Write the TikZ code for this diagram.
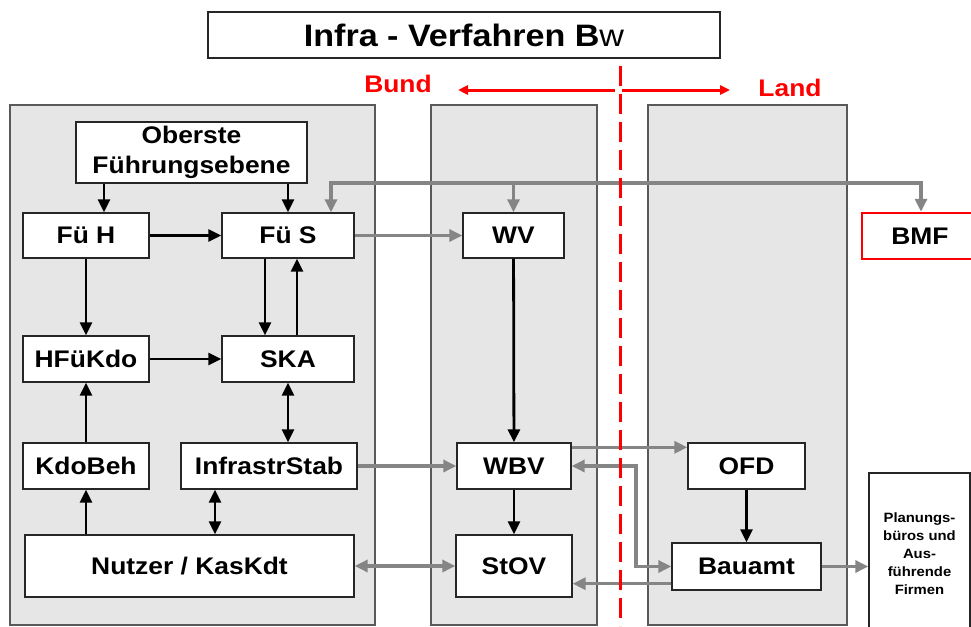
\documentclass[tikz,border=0pt]{standalone}
\usepackage{fontspec}
\setmainfont[FakeStretch=1.1]{Liberation Sans}
\usetikzlibrary{arrows.meta}
\definecolor{panelgray}{HTML}{E6E6E6}
\definecolor{linegray}{HTML}{858585}
\definecolor{bwred}{HTML}{FF0000}

\begin{document}
\begin{tikzpicture}[x=1pt,y=-1pt,
  box/.style={draw=black!85,line width=1.4pt,fill=white,inner sep=0pt,align=center,
    font=\fontsize{24}{30}\selectfont\bfseries},
  panel/.style={fill=panelgray,draw=black!65,line width=1.6pt},
  blk/.style={line width=2.8pt,-{Triangle[length=13pt,width=12pt]}},
  blkboth/.style={line width=2.8pt,{Triangle[length=13pt,width=12pt]}-{Triangle[length=13pt,width=12pt]}},
  gry/.style={draw=linegray,line width=3.2pt,-{Triangle[length=13pt,width=12pt]}},
  gryboth/.style={draw=linegray,line width=3.2pt,{Triangle[length=13pt,width=12pt]}-{Triangle[length=13pt,width=12pt]}},
  redarrow/.style={draw=bwred,line width=3pt,-{Triangle[length=10pt,width=9pt]}},
  redtext/.style={text=bwred,font=\fontsize{24}{30}\selectfont\bfseries}]
  \useasboundingbox (0,0) rectangle (971,626);

  % Spalten
  \foreach \xa/\xb in {10/375,431/597,648/847}
    \draw[panel] (\xa,105) rectangle (\xb,625);

  \node[box,minimum width=512pt,minimum height=46pt,
    font=\fontsize{31}{36}\selectfont\bfseries] (title) at (464,35) {Infra - Verfahren B{\mdseries w}};
  \node[redtext] (bund) at (398,84) {Bund};
  \node[redtext] (land) at (790,88) {Land};

  \node[box,minimum width=231pt,minimum height=61pt] (ober) at (191.5,152.5) {Oberste\\Führungsebene};
  \node[box,minimum width=126pt,minimum height=45pt] (fuh) at (86,235.5) {Fü H};
  \node[box,minimum width=132pt,minimum height=45pt] (fus) at (288,235.5) {Fü S};
  \node[box,minimum width=126pt,minimum height=46pt] (hfk) at (86,359) {HFüKdo};
  \node[box,minimum width=132pt,minimum height=46pt] (ska) at (288,359) {SKA};
  \node[box,minimum width=126pt,minimum height=46pt] (kdo) at (86,466) {KdoBeh};
  \node[box,minimum width=176pt,minimum height=46pt] (infra) at (269,466) {InfrastrStab};
  \node[box,minimum width=329pt,minimum height=62pt] (nutzer) at (189.5,566) {Nutzer / KasKdt};

  \node[box,minimum width=101pt,minimum height=45pt] (wv) at (513.5,235.5) {WV};
  \node[box,minimum width=114pt,minimum height=46pt] (wbv) at (514,466) {WBV};
  \node[box,minimum width=116pt,minimum height=62pt] (stov) at (514,566) {StOV};

  \node[box,minimum width=117pt,minimum height=46pt] (ofd) at (746.5,466) {OFD};
  \node[box,minimum width=149pt,minimum height=47pt] (bauamt) at (746.5,566.5) {Bauamt};

  \node[box,draw=bwred,line width=2.5pt,minimum width=116pt,minimum height=46pt] (bmf) at (920,236) {BMF};
  \node[box,minimum width=101pt,minimum height=162pt,
    font=\fontsize{13.5}{18}\selectfont\bfseries] (plan) at (919.5,554) {Planungs-\\büros und\\Aus-\\führende\\Firmen};

  % schwarze Pfeile
  \coordinate (c1) at (104,0);
  \coordinate (c2) at (215,0);
  \draw[blk] (ober.south -| c1) -- (fuh.north -| c1);
  \draw[blk] (ober.south -| fus) -- (fus);
  \draw[blk] (fuh) -- (fus);
  \draw[blk] (fuh) -- (hfk);
  \draw[blk] ([xshift=-23pt]fus.south) -- ([xshift=-23pt]ska.north);
  \draw[blk] ([xshift=9pt]ska.north) -- ([xshift=9pt]fus.south);
  \draw[blk] (hfk) -- (ska);
  \draw[blkboth] (ska) -- (ska |- infra.north);
  \draw[blk] (kdo) -- (hfk);
  \draw[blk] (nutzer.north -| kdo) -- (kdo);
  \draw[blkboth] (infra.south -| c2) -- (nutzer.north -| c2);
  \draw[blk] (wv) -- (wbv);
  \draw[blk] (wbv) -- (stov);
  \draw[blk] (ofd) -- (bauamt);

  % graue Pfeile
  \coordinate (j1) at (331,183);
  \coordinate (j2) at (921,183);
  \coordinate (bend) at (636,0);
  \coordinate (b2) at ([yshift=7pt]bauamt.south west);
  \draw[gryboth] (fus.north -| j1) |- (j2) -- (bmf.north -| j2);
  \draw[gry] (wv |- j1) -- (wv);
  \draw[gry] (fus) -- (wv);
  \draw[gry] (infra) -- (wbv);
  \draw[gryboth] (nutzer) -- (stov);
  \draw[gry] ([yshift=-5pt]wbv.north east) -- ([yshift=-5pt]ofd.north west);
  \draw[gryboth] (wbv.east) -- (wbv.east -| bend) |- (bauamt.west);
  \draw[gry] (b2) -- (b2 -| stov.east);
  \draw[gry] (bauamt) -- (bauamt -| plan.west);

  % Grenze Bund / Land
  \coordinate (divtop) at (620,66);
  \coordinate (divbot) at (620,626);
  \coordinate (mid) at (619,90);
  \coordinate (bl) at (458,90);
  \coordinate (lr) at (730,90);
  \draw[bwred,line width=3pt,dash pattern=on 20pt off 8pt] (divtop) -- (divbot);
  \draw[redarrow] ([xshift=-4pt]mid) -- (bl);
  \draw[redarrow] ([xshift=3pt]mid) -- (lr);
\end{tikzpicture}
\end{document}
